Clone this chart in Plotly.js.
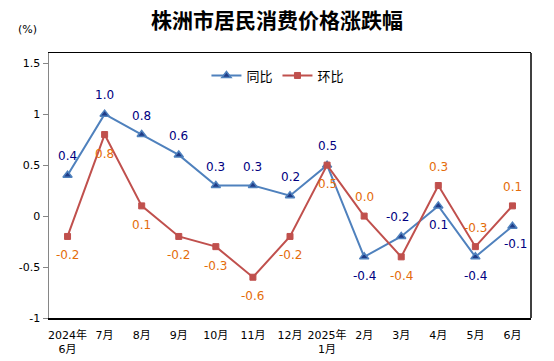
<!DOCTYPE html>
<html>
<head>
<meta charset="utf-8">
<script src="https://cdn.plot.ly/plotly-3.0.1.min.js"></script>
<style>html,body{margin:0;padding:0;background:#fff;}#chart{width:554px;height:361px;}</style>
</head>
<body>
<div id="chart"></div>
<script>
// ---- data ----
const months = ["2024年<br>6月","7月","8月","9月","10月","11月","12月","2025年<br>1月","2月","3月","4月","5月","6月"];
const yoy = [0.4, 1.0, 0.8, 0.6, 0.3, 0.3, 0.2, 0.5, -0.4, -0.2, 0.1, -0.4, -0.1];   // 同比
const mom = [-0.2, 0.8, 0.1, -0.2, -0.3, -0.6, -0.2, 0.5, 0.0, -0.4, 0.3, -0.3, 0.1]; // 环比
const yTickVals = [-1, -0.5, 0, 0.5, 1, 1.5];
const yTickText = ["-1", "-0.5", "0", "0.5", "1", "1.5"];

// ---- label placement styles (pixel shifts) ----
const yoyDy = [19, 19, 19, 19, 19, 19, 19, 19, -19, 19, -19, -19, -18];
const yoyDx = [0, 0, 0, 0, 0, 0, 0, 0, 0, -4, 0, 0, 3];
const momDy = [-19, -19, -19, -19, -19, -19, -19, -19, 19, -19, 19, 19, 19];
const momDx = [0, 0, 0, 0, 0, 0, 0, 0, 0, 0, 0, 0, 0];

const idx = months.map((_, i) => i);
const font = "DejaVu Sans, Noto Sans CJK SC, sans-serif";

const traces = [
  {
    x: idx, y: yoy, name: "同比", type: "scatter", mode: "lines+markers",
    line: {color: "#4F81BD", width: 2},
    marker: {symbol: "triangle-up", size: 8, color: "#1F3C88", line: {color: "#4F81BD", width: 1.5}},
    cliponaxis: false
  },
  {
    x: idx, y: mom, name: "环比", type: "scatter", mode: "lines+markers",
    line: {color: "#C0504D", width: 2},
    marker: {symbol: "square", size: 6, color: "#C0504D", line: {color: "#C0504D", width: 1}},
    cliponaxis: false
  }
];

const labelAnns = [];
yoy.forEach((v, i) => labelAnns.push({
  x: i, y: v, xref: "x", yref: "y", text: v.toFixed(1), showarrow: false,
  xshift: yoyDx[i], yshift: yoyDy[i], xanchor: "center", yanchor: "middle",
  font: {family: font, size: 12, color: "#000080"}
}));
mom.forEach((v, i) => labelAnns.push({
  x: i, y: v, xref: "x", yref: "y", text: v.toFixed(1), showarrow: false,
  xshift: momDx[i], yshift: momDy[i], xanchor: "center", yanchor: "middle",
  font: {family: font, size: 12, color: "#E46C0A"}
}));

const layout = {
  width: 554, height: 361,
  margin: {l: 49, r: 23, t: 53, b: 43},
  paper_bgcolor: "#fff", plot_bgcolor: "#fff",
  font: {family: font, size: 11, color: "#000"},
  title: {
    text: "<b>株洲市居民消费价格涨跌幅</b>",
    font: {family: "Noto Sans CJK SC, sans-serif", size: 21, color: "#000"},
    x: 0.5, xanchor: "center", xref: "container",
    y: 1 - 21/361, yref: "container", yanchor: "middle"
  },
  showlegend: true,
  legend: {
    orientation: "h", x: 0.475, xanchor: "center", y: 0.915, yanchor: "middle",
    font: {family: font, size: 13, color: "#000"}, bgcolor: "rgba(0,0,0,0)",
    itemwidth: 30, tracegroupgap: 0
  },
  xaxis: {
    type: "linear", range: [-0.5, 12.5],
    tickmode: "array", tickvals: idx, ticktext: months,
    ticks: "outside", ticklen: 6, tickcolor: "rgba(0,0,0,0)",
    showgrid: false, zeroline: false,
    showline: true, linecolor: "#000", linewidth: 1.5, mirror: true,
    tickfont: {family: font, size: 11, color: "#000"}
  },
  xaxis2: {
    type: "linear", range: [-0.5, 12.5], overlaying: "x", anchor: "free", position: 1/2.6,
    tickmode: "array", tickvals: idx.slice(0, 12).map(i => i + 0.5),
    ticks: "outside", ticklen: 4, tickcolor: "#868686", tickwidth: 1,
    showticklabels: false, showgrid: false, zeroline: false,
    showline: true, linecolor: "#868686", linewidth: 1
  },
  yaxis: {
    range: [-1, 1.6], tickmode: "array", tickvals: yTickVals, ticktext: yTickText,
    ticks: "outside", ticklen: 5, tickcolor: "#868686",
    showgrid: false, zeroline: false,
    showline: true, linecolor: "#868686", linewidth: 1.5,
    tickfont: {family: font, size: 11, color: "#000"}
  },
  shapes: [
    {type: "line", xref: "paper", yref: "paper", x0: 1, x1: 1, y0: 0, y1: 1, line: {color: "#000", width: 1.5}}
  ],
  annotations: [
    {text: "(%)", xref: "paper", yref: "paper", x: -0.045, y: 1.087, xanchor: "center", yanchor: "middle",
     showarrow: false, font: {family: font, size: 11, color: "#000"}}
  ].concat(labelAnns)
};

Plotly.newPlot("chart", traces, layout, {displayModeBar: false, staticPlot: true});
</script>
</body>
</html>
